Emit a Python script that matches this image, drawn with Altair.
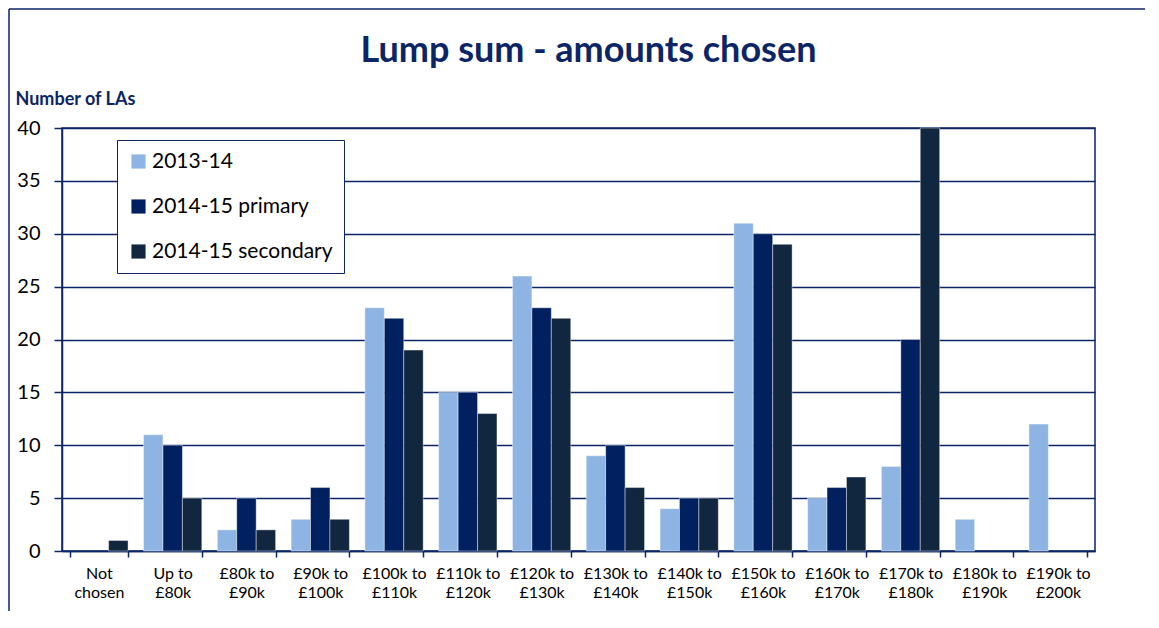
import altair as alt
import pandas as pd

categories = ["Not|chosen", "Up to|£80k", "£80k to|£90k", "£90k to|£100k", "£100k to|£110k",
              "£110k to|£120k", "£120k to|£130k", "£130k to|£140k", "£140k to|£150k",
              "£150k to|£160k", "£160k to|£170k", "£170k to|£180k", "£180k to|£190k",
              "£190k to|£200k"]
series_names = ["2013-14", "2014-15 primary", "2014-15 secondary"]
v_2013_14 = [0, 11, 2, 3, 23, 15, 26, 9, 4, 31, 5, 8, 3, 12]
v_2014_15_primary = [0, 10, 5, 6, 22, 15, 23, 10, 5, 30, 6, 20, 0, 0]
v_2014_15_secondary = [1, 5, 2, 3, 19, 13, 22, 6, 5, 29, 7, 40, 0, 0]
colors = ["#8DB4E2", "#002060", "#11263F"]
y_ticks = [0, 5, 10, 15, 20, 25, 30, 35, 40]

navy = "#0B2566"

rows = []
for i, c in enumerate(categories):
    for s, vals in zip(series_names, [v_2013_14, v_2014_15_primary, v_2014_15_secondary]):
        rows.append({"category": c, "series": s, "value": vals[i]})
df = pd.DataFrame(rows)

bars = alt.Chart(df).transform_filter("datum.value > 0").mark_bar(
    stroke="white", strokeWidth=0.6, strokeOpacity=0.7
).encode(
    x=alt.X("category:N", sort=categories,
            scale=alt.Scale(domain=categories, paddingInner=0.21, paddingOuter=0.105),
            axis=alt.Axis(title=None, labelExpr="split(datum.label, '|')", labelAngle=0,
                          tickBand="extent", ticks=True, tickSize=6, tickColor=navy,
                          tickWidth=1.5, domainColor=navy, domainWidth=1.5,
                          labelFontSize=16, labelColor="black", labelPadding=8,
                          labelLineHeight=19, grid=False)),
    xOffset=alt.XOffset("series:N", sort=series_names,
                        scale=alt.Scale(domain=series_names, paddingInner=0, paddingOuter=0)),
    y=alt.Y("value:Q", scale=alt.Scale(domain=[0, 40], nice=False),
            axis=alt.Axis(values=y_ticks, title="Number of LAs", titleAngle=0,
                          titleX=-47, titleY=-24, titleAlign="left",
                          titleBaseline="alphabetic", titleFontSize=18,
                          titleFontWeight="bold", titleColor=navy,
                          labelFontSize=20, labelColor="black", tickSize=8,
                          tickColor=navy, tickWidth=1.5, labelPadding=14,
                          domainColor=navy, domainWidth=1.5,
                          grid=True, gridColor=navy, gridWidth=1.3)),
    color=alt.Color("series:N", sort=series_names,
                    scale=alt.Scale(domain=series_names, range=colors),
                    legend=alt.Legend(title=None, orient="none", legendX=55, legendY=12,
                                      direction="vertical", symbolType="square",
                                      symbolSize=200, symbolStrokeWidth=0,
                                      labelFontSize=21, labelColor="black", labelLimit=0,
                                      rowPadding=23, padding=11, strokeColor=navy,
                                      fillColor="white", labelOffset=3)),
)

frame_data = alt.Data(values=[{}])
frame_left = alt.Chart(frame_data).mark_rule(stroke=navy, strokeWidth=1.5).encode(
    x=alt.value(-53), y=alt.value(-119), y2=alt.value(483))
frame_top = alt.Chart(frame_data).mark_rule(stroke=navy, strokeWidth=1.5).encode(
    x=alt.value(-53), x2=alt.value(1083), y=alt.value(-119))

chart = alt.layer(frame_left, frame_top, bars).properties(
    width=1033, height=423,
    padding={"left": 54, "top": 120, "right": 56, "bottom": 60},
    autosize=alt.AutoSizeParams(type="none"),
    title=alt.TitleParams("Lump sum - amounts chosen", fontSize=36, fontWeight="bold",
                          color=navy, anchor="middle", frame="group", offset=-62, dx=10),
).configure(font="Lato").configure_view(stroke=navy, strokeWidth=1.5)

chart.save("out.html", embed_options={"renderer": "svg", "actions": False})
